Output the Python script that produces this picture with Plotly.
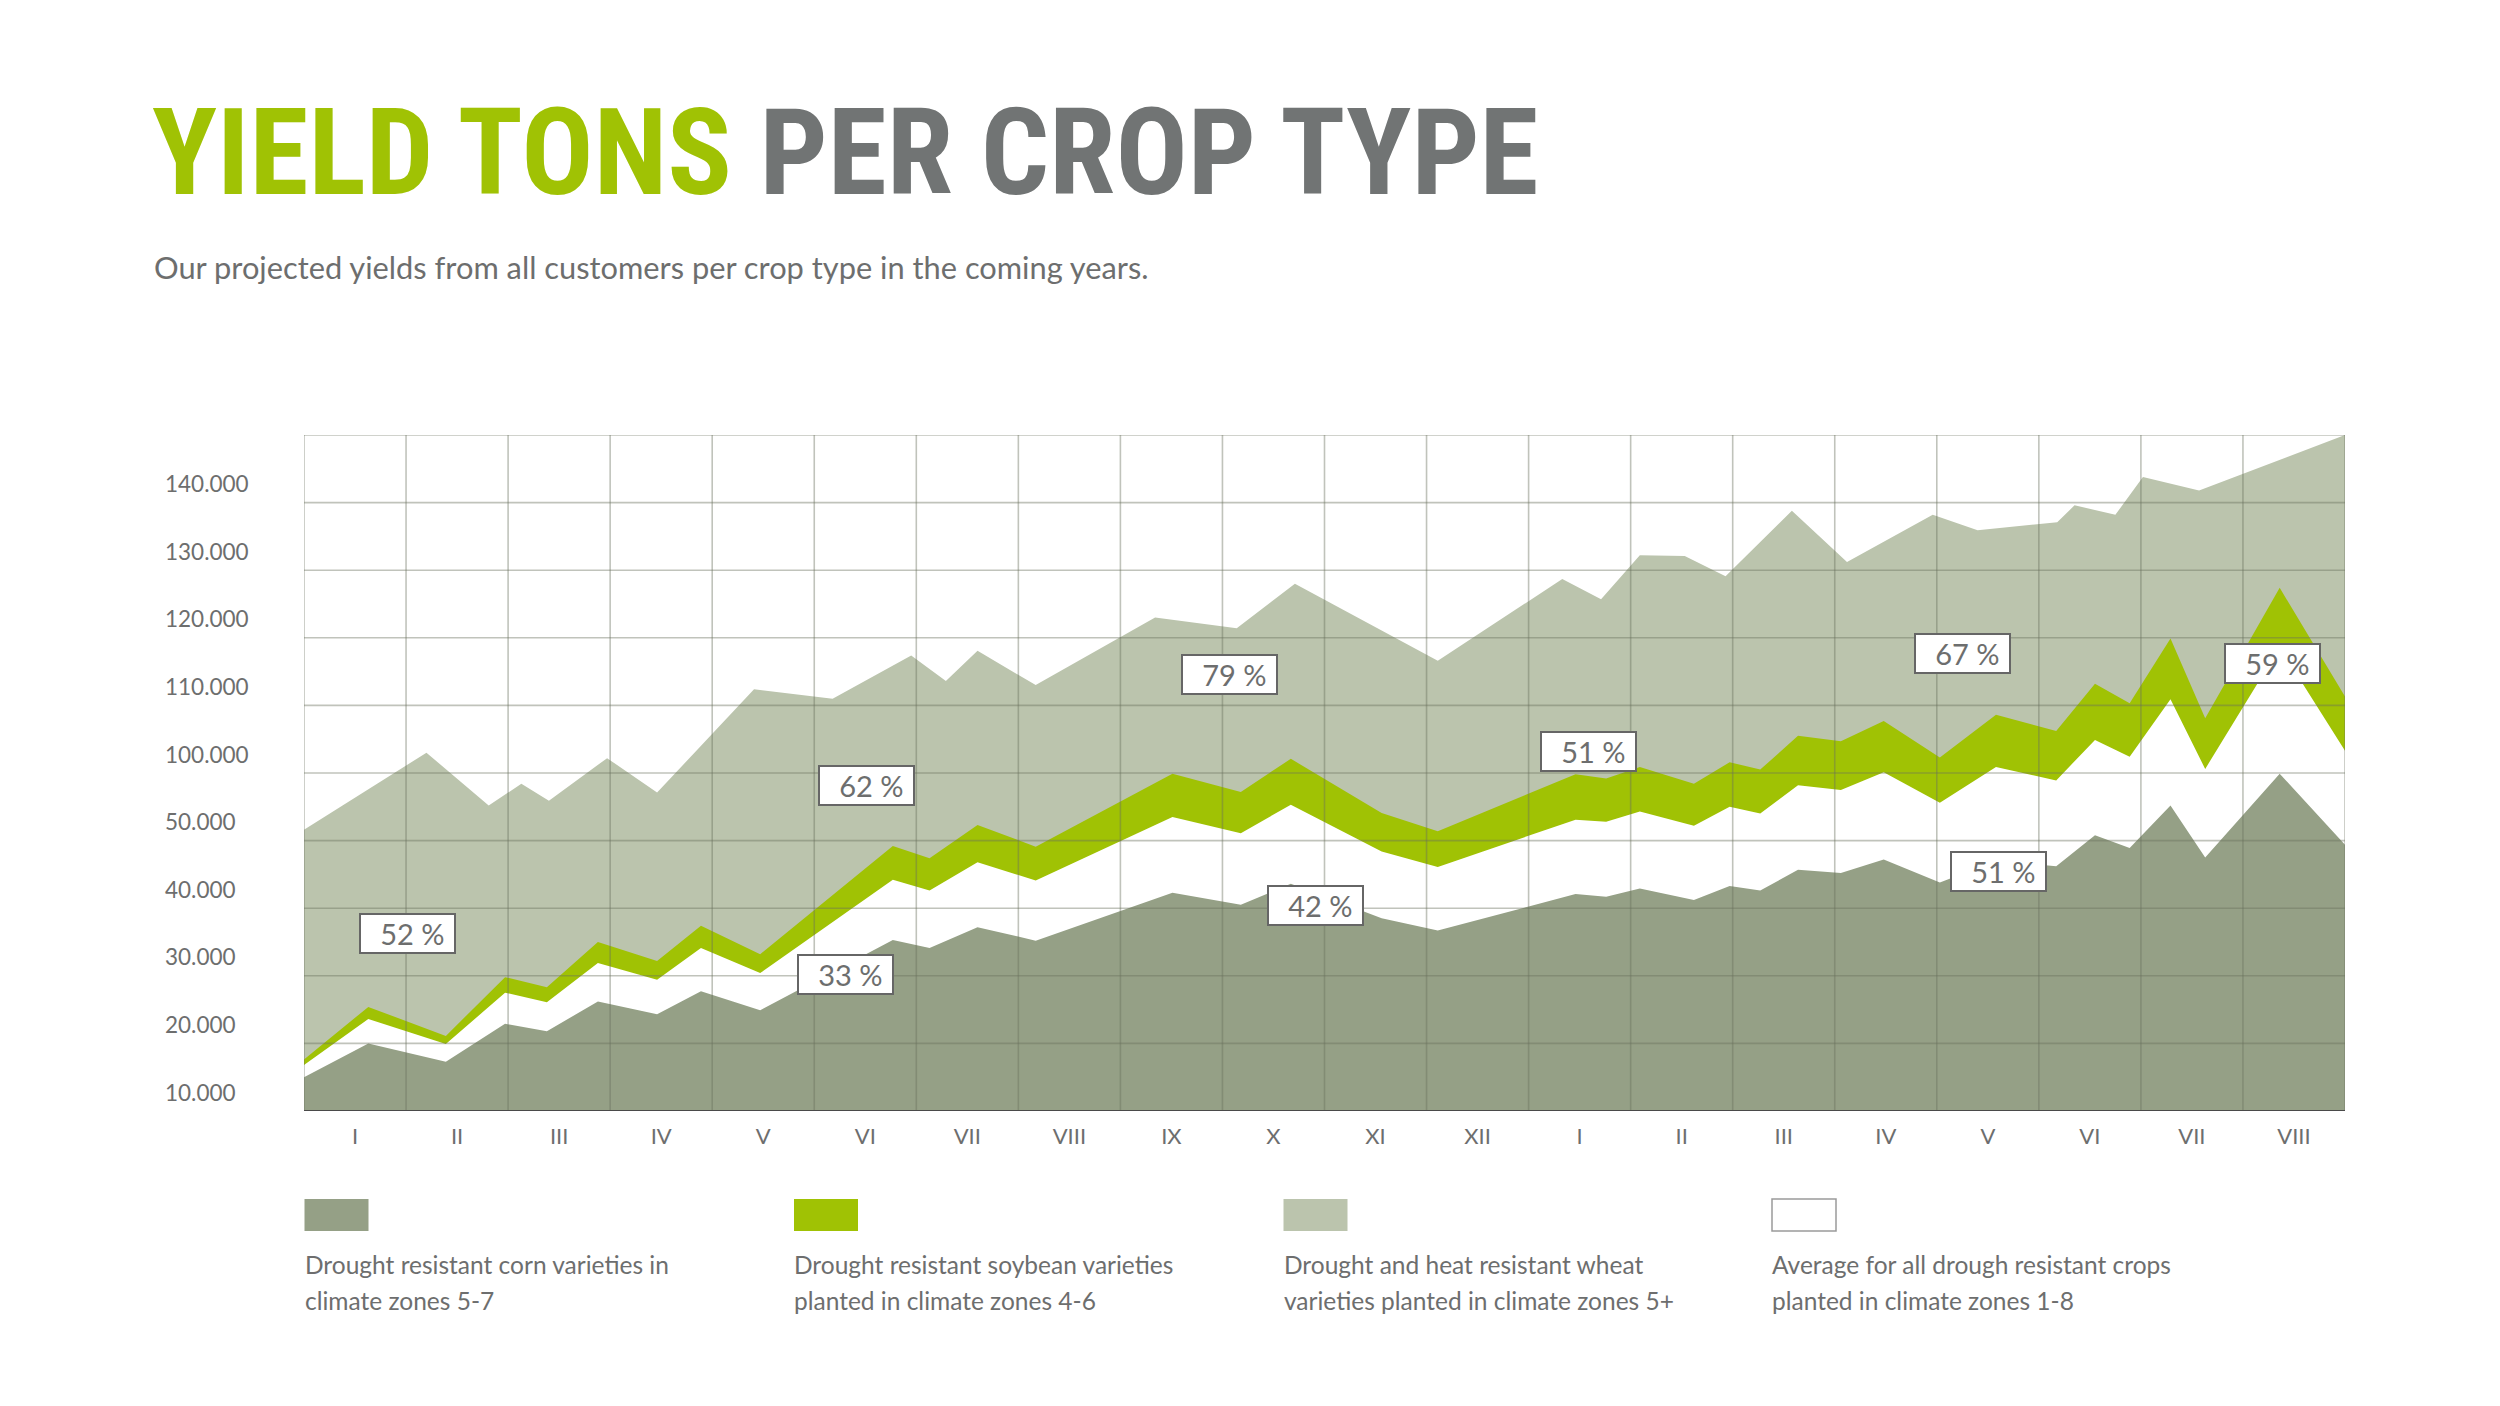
import plotly.graph_objects as go

# ---------------- data (x in month-columns 0..20, y in grid units 0..10) -------------
month_labels = ["I", "II", "III", "IV", "V", "VI", "VII", "VIII", "IX", "X", "XI", "XII",
                "I", "II", "III", "IV", "V", "VI", "VII", "VIII"]
y_labels = ["10.000", "20.000", "30.000", "40.000", "50.000",
            "100.000", "110.000", "120.000", "130.000", "140.000"]

wheat_x = [0, 1.20, 1.81, 2.13, 2.40, 2.97, 3.46, 4.41, 5.18, 5.95, 6.29, 6.60, 7.17, 8.34,
           9.14, 9.71, 11.11, 12.33, 12.71, 13.09, 13.53, 13.93, 14.58, 15.12, 15.96, 16.40,
           17.18, 17.35, 17.75, 18.02, 18.57, 20.0]
wheat_y = [4.16, 5.30, 4.52, 4.84, 4.59, 5.22, 4.71, 6.24, 6.10, 6.74, 6.36, 6.81, 6.30, 7.30,
           7.14, 7.80, 6.66, 7.87, 7.57, 8.22, 8.21, 7.91, 8.88, 8.12, 8.82, 8.59,
           8.71, 8.96, 8.82, 9.38, 9.18, 10.0]

band_x = [0, 0.63, 1.39, 1.97, 2.38, 2.88, 3.46, 3.89, 4.47, 5.77, 6.13, 6.60, 7.17, 8.51,
          9.18, 9.67, 10.56, 11.11, 12.46, 12.76, 13.09, 13.62, 13.97, 14.27, 14.64, 15.06,
          15.48, 16.03, 16.58, 17.17, 17.55, 17.89, 18.29, 18.63, 19.36, 20.0]
soy_y = [0.76, 1.54, 1.11, 1.98, 1.83, 2.50, 2.22, 2.74, 2.32, 3.92, 3.74, 4.23, 3.91, 4.99,
         4.72, 5.21, 4.41, 4.14, 4.98, 4.92, 5.09, 4.84, 5.16, 5.05, 5.55, 5.47,
         5.77, 5.23, 5.86, 5.62, 6.32, 6.03, 6.99, 5.81, 7.74, 6.13]
avg_y = [0.68, 1.36, 0.99, 1.75, 1.61, 2.19, 1.94, 2.41, 2.04, 3.42, 3.26, 3.68, 3.41, 4.35,
         4.11, 4.53, 3.84, 3.61, 4.31, 4.28, 4.43, 4.22, 4.50, 4.40, 4.82, 4.75,
         5.01, 4.56, 5.09, 4.89, 5.49, 5.24, 6.09, 5.06, 6.86, 5.33]
corn_y = [0.50, 1.00, 0.73, 1.29, 1.18, 1.62, 1.43, 1.77, 1.49, 2.53, 2.41, 2.72, 2.52, 3.23,
          3.05, 3.36, 2.85, 2.67, 3.21, 3.17, 3.29, 3.12, 3.33, 3.26, 3.57, 3.52,
          3.72, 3.38, 3.70, 3.62, 4.08, 3.89, 4.52, 3.75, 4.99, 3.94]

pct_labels = ["52 %", "33 %", "62 %", "79 %", "42 %", "51 %", "67 %", "51 %", "59 %"]
pct_x = [1.01, 5.31, 5.51, 9.07, 9.91, 12.59, 16.25, 16.60, 19.29]
pct_y = [2.62, 2.02, 4.82, 6.45, 3.04, 5.32, 6.77, 3.55, 6.62]

legend_lines = [
    ["Drought resistant corn varieties in", "climate zones 5-7"],
    ["Drought resistant soybean varieties", "planted in climate zones 4-6"],
    ["Drought and heat resistant wheat", "varieties planted in climate zones 5+"],
    ["Average for all drough resistant crops", "planted in climate zones 1-8"],
]

# ---------------- styles -------------
C_CORN = "#95a086"
C_SOY = "#a0c204"
C_WHEAT = "#bbc4ad"
C_AVG = "#ffffff"
C_TEXT = "#6d6e6e"
FONT = "Lato, 'Source Sans Pro', 'Open Sans', sans-serif"

W, H = 2500, 1406
L, R, T, B = 304, 155, 435, 295
PW, PH = W - L - R, H - T - B


def px_x(px):
    return (px - L) / PW


def px_y(py):
    return (H - B - py) / PH


fig = go.Figure()
fig.add_trace(go.Scatter(x=wheat_x, y=wheat_y, mode="lines", fill="tozeroy",
                         line=dict(width=0, color=C_WHEAT), fillcolor=C_WHEAT,
                         name="wheat", hoverinfo="skip"))
fig.add_trace(go.Scatter(x=band_x, y=soy_y, mode="lines", fill="tozeroy",
                         line=dict(width=0, color=C_SOY), fillcolor=C_SOY,
                         name="soy", hoverinfo="skip"))
fig.add_trace(go.Scatter(x=band_x, y=avg_y, mode="lines", fill="tozeroy",
                         line=dict(width=0, color=C_AVG), fillcolor=C_AVG,
                         name="avg", hoverinfo="skip"))
fig.add_trace(go.Scatter(x=band_x, y=corn_y, mode="lines", fill="tozeroy",
                         line=dict(width=0, color=C_CORN), fillcolor=C_CORN,
                         name="corn", hoverinfo="skip"))

shapes = []
grid_col = "rgba(105,112,92,0.42)"
n_cols = len(month_labels)
n_rows = len(y_labels)
for i in range(1, n_rows + 1):
    shapes.append(dict(type="line", xref="x", yref="y", x0=0, x1=n_cols, y0=i, y1=i,
                       line=dict(color=grid_col, width=1.6), layer="above"))
for j in range(0, n_cols + 1):
    shapes.append(dict(type="line", xref="x", yref="y", x0=j, x1=j, y0=0, y1=n_rows,
                       line=dict(color=grid_col, width=1.6), layer="above"))
shapes.append(dict(type="line", xref="x", yref="y", x0=0, x1=n_cols, y0=0, y1=0,
                   line=dict(color="#4a4a4a", width=2.2), layer="above"))

annotations = []
# title
annotations.append(dict(
    xref="paper", yref="paper", x=px_x(150), y=px_y(153), xanchor="left", yanchor="middle",
    text="<span style='color:#a0c204'>YIELD TONS</span> PER CROP TYPE",
    showarrow=False,
    font=dict(family="'Roboto Condensed', 'Liberation Sans Narrow', 'Noto Sans', sans-serif",
              size=120, color="#717474", weight="bold")))
annotations.append(dict(
    xref="paper", yref="paper", x=px_x(152), y=px_y(268), xanchor="left", yanchor="middle",
    text="Our projected yields from all customers per crop type in the coming years.",
    showarrow=False, font=dict(family=FONT, size=30.8, color=C_TEXT)))

# y labels (left aligned)
for i, lab in enumerate(y_labels):
    annotations.append(dict(xref="paper", yref="y", x=px_x(163), y=i, xanchor="left",
                            yanchor="middle", yshift=19, text=lab, showarrow=False,
                            font=dict(family=FONT, size=22.5, color=C_TEXT)))

# percentage boxes
for t, xx, yy in zip(pct_labels, pct_x, pct_y):
    annotations.append(dict(xref="x", yref="y", x=xx, y=yy, text=t + "\u00a0",
                            showarrow=False, align="right", width=89, height=33,
                            bgcolor="#ffffff", bordercolor="#666666", borderwidth=2,
                            borderpad=2, font=dict(family=FONT, size=29, color=C_TEXT)))

# custom legend
legend_colors = [C_CORN, C_SOY, C_WHEAT, C_AVG]
item_left = [304.5, 794, 1283.5, 1772]
for k, (col, lines) in enumerate(zip(legend_colors, legend_lines)):
    x0 = item_left[k]
    shapes.append(dict(type="rect", xref="paper", yref="paper",
                       x0=px_x(x0), x1=px_x(x0 + 64), y0=px_y(1231), y1=px_y(1199),
                       fillcolor=col,
                       line=dict(color="#9a9a9a" if col == C_AVG else col,
                                 width=1.5 if col == C_AVG else 0)))
    for li, (txt, ly) in enumerate(zip(lines, [1264, 1300])):
        annotations.append(dict(xref="paper", yref="paper", x=px_x(x0 - 2), y=px_y(ly),
                                xanchor="left", yanchor="middle", text=txt,
                                showarrow=False,
                                font=dict(family=FONT, size=24.5, color=C_TEXT)))

fig.update_layout(
    width=W, height=H, autosize=False,
    margin=dict(l=L, r=R, t=T, b=B, pad=0),
    paper_bgcolor="white", plot_bgcolor="white",
    showlegend=False,
    shapes=shapes, annotations=annotations,
    xaxis=dict(range=[0, n_cols], tickvals=[i + 0.5 for i in range(n_cols)],
               ticktext=month_labels, showgrid=False, zeroline=False, ticks="",
               tickfont=dict(family=FONT, size=22, color=C_TEXT), ticklabelstandoff=10,
               showline=False, fixedrange=True),
    yaxis=dict(range=[0, n_rows + 0.0], showticklabels=False, showgrid=False,
               zeroline=False, ticks="", showline=False, fixedrange=True),
)

fig.write_html("out.html")
